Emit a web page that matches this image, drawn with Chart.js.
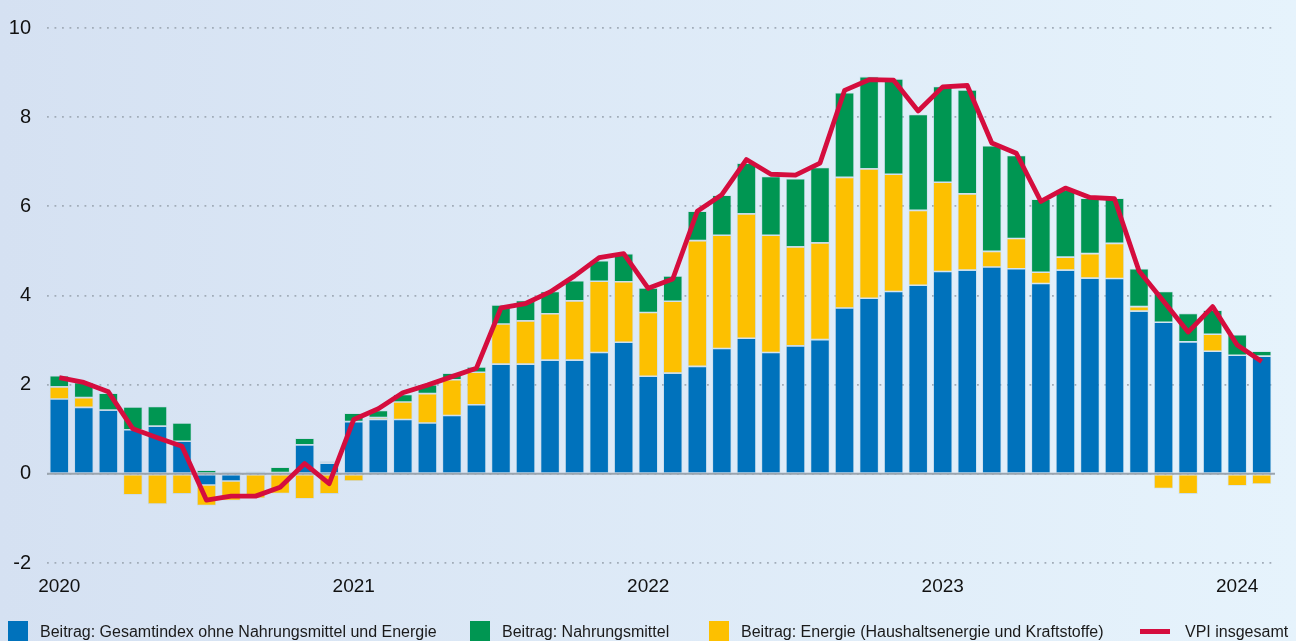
<!DOCTYPE html>
<html lang="de">
<head>
<meta charset="utf-8">
<title>VPI Beiträge</title>
<script src="https://cdn.jsdelivr.net/npm/chart.js@4.4.1/dist/chart.umd.min.js"></script>
<style>
  html, body { margin: 0; padding: 0; }
  body {
    width: 1296px; height: 641px; overflow: hidden;
    background: linear-gradient(to right, #d5e1f2 0%, #e6f3fc 100%);
    font-family: "Liberation Sans", Arial, sans-serif;
    color: #1a1a1a;
  }
  #wrap { position: relative; width: 1296px; height: 641px; }
  #legend { position: absolute; left: 0; top: 621px; width: 1296px; height: 22px; }
  .item { position: absolute; top: 0; font-size: 16px; line-height: 20px; white-space: nowrap; }
  .item .sw { position: absolute; top: 0; width: 20px; height: 20px; }
  .item .ln { position: absolute; top: 8px; width: 30px; height: 5px; }
  .item span.t { position: absolute; top: 1px; }
</style>
</head>
<body>
<div id="wrap">
  <canvas id="chart"></canvas>
  <div id="legend"></div>
</div>
<script>
// Monate Jan 2020 bis Feb 2024, Jahreszahl nur im Januar
const yearLabels = ['2020', '2021', '2022', '2023', '2024'];
const months = [];
for (let y = 0; y < yearLabels.length; y++) {
    for (let m = 0; m < 12; m++) {
        if (y === 4 && m > 1) break;
        months.push(m === 0 ? yearLabels[y] : '');
    }
}

// Beitrag: Gesamtindex ohne Nahrungsmittel und Energie
const coreValues = [
    1.68, 1.49, 1.43, 0.99, 1.07, 0.73, -0.25, -0.16, 0.00, 0.03, 0.65, 0.24,
    1.17, 1.22, 1.22, 1.14, 1.31, 1.55, 2.46, 2.46, 2.55, 2.55, 2.72, 2.95,
    2.19, 2.26, 2.41, 2.81, 3.04, 2.72, 2.87, 3.01, 3.72, 3.94, 4.09, 4.23,
    4.54, 4.57, 4.64, 4.60, 4.27, 4.57, 4.39, 4.38, 3.65, 3.40, 2.96, 2.75,
    2.66, 2.64
];

// Beitrag: Energie (Haushaltsenergie und Kraftstoffe)
const energyValues = [
    0.27, 0.22, -0.03, -0.47, -0.68, -0.45, -0.46, -0.44, -0.55, -0.44, -0.56, -0.45,
    -0.16, 0.04, 0.39, 0.66, 0.80, 0.73, 0.90, 0.97, 1.04, 1.33, 1.60, 1.36,
    1.43, 1.61, 2.82, 2.54, 2.79, 2.63, 2.22, 2.17, 2.93, 2.90, 2.63, 1.68,
    2.00, 1.71, 0.35, 0.68, 0.25, 0.29, 0.55, 0.79, 0.10, -0.33, -0.45, 0.38,
    -0.27, -0.23
];

// Beitrag: Nahrungsmittel
const foodValues = [
    0.25, 0.34, 0.38, 0.51, 0.44, 0.41, 0.08, 0.05, 0.05, 0.12, 0.15, 0.04,
    0.19, 0.16, 0.17, 0.20, 0.15, 0.12, 0.43, 0.46, 0.50, 0.45, 0.46, 0.63,
    0.55, 0.57, 0.66, 0.90, 1.14, 1.32, 1.53, 1.69, 1.90, 2.07, 2.14, 2.15,
    2.15, 2.33, 2.37, 1.86, 1.64, 1.51, 1.24, 1.01, 0.85, 0.69, 0.64, 0.54,
    0.46, 0.11
];

// VPI insgesamt
const cpiValues = [
    2.16, 2.05, 1.84, 1.01, 0.81, 0.62, -0.59, -0.50, -0.50, -0.30, 0.23, -0.22,
    1.22, 1.46, 1.82, 1.99, 2.18, 2.37, 3.72, 3.82, 4.08, 4.44, 4.85, 4.94,
    4.16, 4.37, 5.89, 6.26, 7.05, 6.72, 6.70, 6.97, 8.60, 8.84, 8.83, 8.14,
    8.68, 8.71, 7.42, 7.19, 6.11, 6.41, 6.20, 6.17, 4.55, 3.87, 3.18, 3.75,
    2.89, 2.52
];

const yTicks = [-2, 0, 2, 4, 6, 8, 10];

const BLUE = '#0072bc';
const GREEN = '#009652';
const YELLOW = '#fdc000';
const RED = '#d50d3e';
const TEXT = '#111111';
const FONT = '"Liberation Sans", Arial, sans-serif';

const barDefaults = {
    type: 'bar',
    order: 1,
    categoryPercentage: 1.0,
    barPercentage: 0.78,
    borderWidth: 0.8,
    borderColor: 'rgba(170,200,215,0.45)',
    borderSkipped: false
};

// solid zero line above the dotted grid
const zeroLine = {
    id: 'zeroLine',
    beforeDatasetsDraw(chart) {
        const y = chart.scales.y.getPixelForValue(0);
        const { left, right } = chart.chartArea;
        const ctx = chart.ctx;
        ctx.save();
        ctx.strokeStyle = '#9aa4ae';
        ctx.lineWidth = 2;
        ctx.beginPath();
        ctx.moveTo(left, y);
        ctx.lineTo(right + 1, y);
        ctx.stroke();
        ctx.restore();
    }
};

const ctx = document.getElementById('chart');
const chart = new Chart(ctx, {
    data: {
        labels: months,
        datasets: [
            Object.assign({}, barDefaults, {
                label: 'Beitrag: Gesamtindex ohne Nahrungsmittel und Energie',
                data: coreValues,
                backgroundColor: BLUE
            }),
            Object.assign({}, barDefaults, {
                label: 'Beitrag: Energie (Haushaltsenergie und Kraftstoffe)',
                data: energyValues,
                backgroundColor: YELLOW
            }),
            Object.assign({}, barDefaults, {
                label: 'Beitrag: Nahrungsmittel',
                data: foodValues,
                backgroundColor: GREEN
            }),
            {
                type: 'line',
                order: 0,
                label: 'VPI insgesamt',
                data: cpiValues,
                borderColor: RED,
                backgroundColor: RED,
                borderWidth: 4.8,
                borderJoinStyle: 'round',
                pointRadius: 0,
                tension: 0,
                fill: false
            }
        ]
    },
    options: {
        responsive: true,
        maintainAspectRatio: false,
        animation: false,
        layout: {
            padding: { top: 24, right: 22, bottom: 48, left: 0 }
        },
        scales: {
            x: {
                stacked: true,
                offset: true,
                grid: { display: false, drawTicks: false },
                border: { display: false },
                ticks: {
                    autoSkip: false,
                    maxRotation: 0,
                    padding: 12,
                    color: TEXT,
                    font: { family: FONT, size: 19 }
                },
                afterFit(scale) { scale.height = 30; }
            },
            y: {
                stacked: true,
                min: -2,
                max: 10,
                afterBuildTicks(scale) {
                    scale.ticks = yTicks.map(v => ({ value: v }));
                },
                grid: {
                    color: '#a1acb8',
                    lineWidth: 1.8,
                    drawTicks: false
                },
                border: { display: false, dash: [1.8, 5.7] },
                ticks: {
                    padding: 16,
                    color: TEXT,
                    font: { family: FONT, size: 20 }
                },
                afterFit(scale) { scale.width = 47; }
            }
        },
        plugins: {
            legend: { display: false },
            tooltip: { enabled: false }
        }
    },
    plugins: [zeroLine]
});

// Legende in der Reihenfolge des Originals
const legendItems = [
    { ds: 0, left: 8, kind: 'box' },
    { ds: 2, left: 470, kind: 'box' },
    { ds: 1, left: 709, kind: 'box' },
    { ds: 3, left: 1140, kind: 'line' }
];
const legendEl = document.getElementById('legend');
legendItems.forEach(it => {
    const ds = chart.data.datasets[it.ds];
    const div = document.createElement('div');
    div.className = 'item';
    div.style.left = it.left + 'px';
    const sw = document.createElement('div');
    sw.className = it.kind === 'box' ? 'sw' : 'ln';
    sw.style.background = ds.backgroundColor;
    const t = document.createElement('span');
    t.className = 't';
    t.style.left = (it.kind === 'box' ? 32 : 45) + 'px';
    t.textContent = ds.label;
    div.appendChild(sw);
    div.appendChild(t);
    legendEl.appendChild(div);
});
</script>
</body>
</html>
